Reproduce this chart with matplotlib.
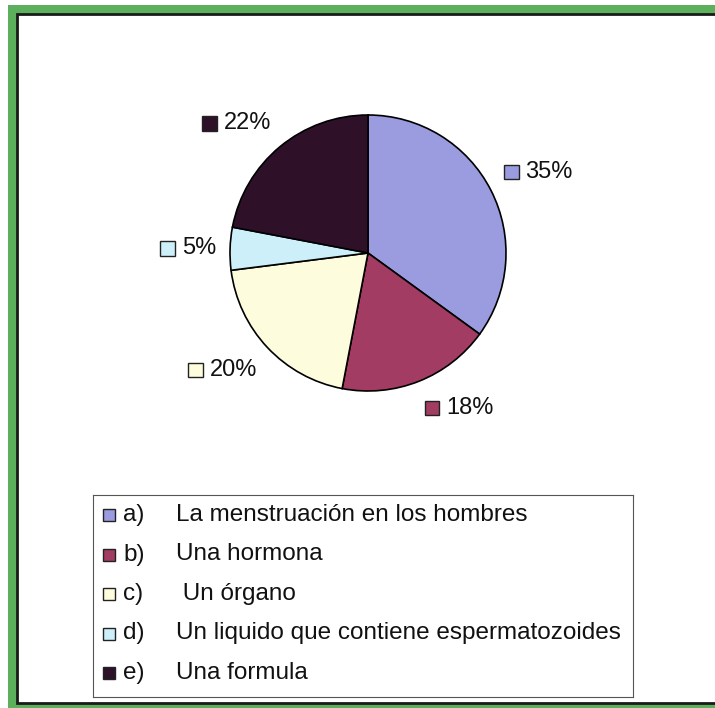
import numpy as np
import matplotlib
matplotlib.use("Agg")
import matplotlib.pyplot as plt
from matplotlib.patches import Rectangle
from matplotlib.offsetbox import DrawingArea, TextArea, HPacker, AnnotationBbox

plt.rcParams['font.family'] = ['Liberation Sans', 'DejaVu Sans']

letters = ["a)", "b)", "c)", "d)", "e)"]
categories = ["La menstruación en los hombres", "Una hormona", " Un órgano",
              "Un liquido que contiene espermatozoides", "Una formula"]
values = [35, 18, 20, 5, 22]
colors = ["#9a9cdf", "#a23c63", "#fdfcdc", "#cdeffa", "#2e1129"]

W, H = 715, 708
fig = plt.figure(figsize=(W / 100, H / 100), dpi=100)
fig.patch.set_facecolor("white")

# green frame + inner black line
fig.patches.append(Rectangle((8 / W, 0), 1.2, 1 - 5 / H, transform=fig.transFigure,
                             facecolor="#5cb05c", edgecolor="none", zorder=-3))
fig.patches.append(Rectangle((17 / W, 5 / H), 1.2, 1 - 19 / H, transform=fig.transFigure,
                             facecolor="white", edgecolor="#1a1a1a", linewidth=2, zorder=-2))

# pie
cx, cy, r = 368, 253, 138
ax = fig.add_axes([(cx - r) / W, 1 - (cy + r) / H, 2 * r / W, 2 * r / H])
ax.set_zorder(2)
wedges, _ = ax.pie(values, colors=colors, startangle=90, counterclock=False,
                   wedgeprops=dict(edgecolor="black", linewidth=1.2))
ax.set_xlim(-1, 1)
ax.set_ylim(-1, 1)
ax.set_aspect("equal")
ax.axis("off")

for w, v, c in zip(wedges, values, colors):
    ang = np.deg2rad((w.theta1 + w.theta2) / 2)
    x, y = 1.1 * np.cos(ang), 1.12 * np.sin(ang)
    da = DrawingArea(12, 12, 0, 0)
    da.add_artist(Rectangle((0.5, 0.5), 10.5, 10.5, facecolor=c, edgecolor="#222222", linewidth=1))
    ta = TextArea(f"{v}%", textprops=dict(fontsize=17, color="#111111"))
    box = HPacker(children=[da, ta], align="center", pad=0, sep=4)
    hx = 0 if np.cos(ang) > 0 else 1
    s = np.sin(ang)
    vy = 0 if s > 0.3 else (1 if s < -0.3 else 0.5)
    ab = AnnotationBbox(box, (x, y), xycoords="data", box_alignment=(hx, vy),
                        frameon=False, pad=0, annotation_clip=False)
    ax.add_artist(ab)

# legend box
lx0, lx1, ly0, ly1 = 93, 633, 495, 697
lax = fig.add_axes([lx0 / W, 1 - ly1 / H, (lx1 - lx0) / W, (ly1 - ly0) / H])
lax.set_zorder(2)
lax.set_xlim(0, lx1 - lx0)
lax.set_ylim(ly1 - ly0, 0)
lax.set_xticks([])
lax.set_yticks([])
for sp in lax.spines.values():
    sp.set_color("#555555")
    sp.set_linewidth(0.8)
row_y = np.linspace(20, 178, len(categories))
for yy, let, cat, c in zip(row_y, letters, categories, colors):
    lax.add_patch(Rectangle((10, yy - 6), 12, 12, facecolor=c, edgecolor="#222222", linewidth=1))
    lax.text(30, yy, let, fontsize=17.5, va="center", ha="left", color="#111111")
    lax.text(83, yy, cat, fontsize=17.5, va="center", ha="left", color="#111111")

fig.savefig("out.png", dpi=100)
